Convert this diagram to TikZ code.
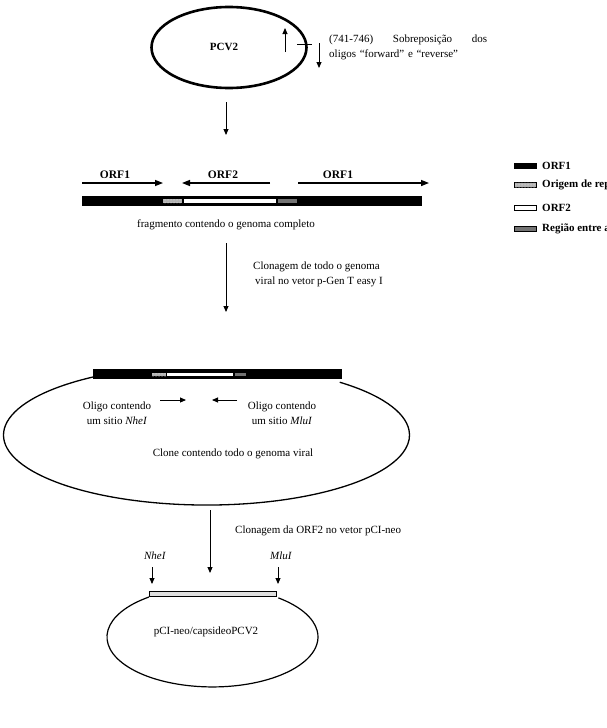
\documentclass[tikz,border=0pt]{standalone}
\usepackage{fontspec}
\setmainfont{Liberation Serif}
\usepackage{tikz}
\usetikzlibrary{arrows.meta,positioning,shapes.geometric,patterns}

\begin{document}
\begin{tikzpicture}[
  x=1pt, y=1pt,
  txt/.style={font=\fontsize{11}{15}\selectfont, inner sep=0pt},
  lab/.style={font=\fontsize{11.5}{14}\selectfont\bfseries, inner sep=0pt},
  fl/.style={-{Triangle[length=6pt,width=5pt]}, line width=0.9pt},
  orfa/.style={-{Triangle[length=8pt,width=6pt]}, line width=1.4pt},
  genome/.style={fill=black},
  ori/.style={fill=black!30, postaction={pattern=dots, pattern color=white}},
  orftwo/.style={fill=white},
  ig/.style={fill=black!55},
  plasmid/.style={line width=1.3pt},
]
\useasboundingbox (0,0) rectangle (606,-728);

% ---------- PCV2 ----------
\node[draw, ellipse, line width=2.6pt, minimum width=155pt, minimum height=81pt,
      inner sep=0pt] (pcv) at (229,-47.5) {};
\node[lab, font=\fontsize{11}{13}\selectfont\bfseries] (pcvlbl) at (224,-47) {PCV2};
\coordinate (fwS) at (285,-52);  \coordinate (fwE) at (285,-28);
\coordinate (tkA) at (297,-44);  \coordinate (tkB) at (312,-44);
\coordinate (rvS) at (319,-43);  \coordinate (rvE) at (319,-68);
\draw[fl] (fwS) -- (fwE);
\draw[line width=0.9pt] (tkA) -- (tkB);
\draw[fl] (rvS) -- (rvE);
\node[txt, anchor=west, text width=158pt, align=left] (overlap) at (329,-47)
  {(741-746)\hfill Sobreposição\hfill dos\\oligos “forward” e “reverse”};

\coordinate (d1s) at (226,-102); \coordinate (d1e) at (226,-135);
\draw[fl] (d1s) -- (d1e);

% ---------- linear fragment ----------
\node[lab] (orf1a) at (115,-175) {ORF1};
\node[lab] (orf2a) at (223,-175) {ORF2};
\node[lab] (orf1b) at (338,-175) {ORF1};
\coordinate (o1s) at (82,-183);  \coordinate (o1e) at (163,-183);
\coordinate (o2s) at (270,-183); \coordinate (o2e) at (182,-183);
\coordinate (o3s) at (298,-183); \coordinate (o3e) at (429,-183);
\draw[orfa] (o1s) -- (o1e);
\draw[orfa] (o2s) -- (o2e);
\draw[orfa] (o3s) -- (o3e);

\fill[genome] (82,-196) rectangle (422,-206);
\fill[ori] (163,-199) rectangle (182,-203);
\fill[orftwo] (184,-199) rectangle (276,-203);
\fill[ig] (278,-199) rectangle (297,-203);
\node[txt] (frag) at (226,-225) {fragmento contendo o genoma completo};

% ---------- legend (cut by the page edge) ----------
\begin{scope}
  \clip (0,0) rectangle (606,-728);
  \foreach \y/\st/\txt in {166/genome/ORF1, 185/ori/Origem de replicação,
                           208/orftwo/ORF2, 229/ig/Região entre as ORFs} {
    \filldraw[\st, draw=black, line width=0.5pt] (514,-\y+2.5) rectangle (536,-\y-2.5);
    \node[lab, font=\fontsize{11}{13}\selectfont\bfseries, anchor=west] at (542,-\y) {\txt};
  }
\end{scope}

\coordinate (d2s) at (226,-243); \coordinate (d2e) at (226,-312);
\draw[fl] (d2s) -- (d2e);
\node[txt, anchor=west, align=left] (clon1) at (253,-274.5)
  {Clonagem de todo o genoma\\\hspace{2pt}viral no vetor p-Gen T easy I};

% ---------- clone with the whole genome ----------
\coordinate (clc) at (208,-435);
\draw[plasmid] (93,-377) arc[start angle=124, end angle=409, x radius=203, y radius=70];
\fill[genome] (93,-369) rectangle (342,-379);
\fill[ori] (152,-373) rectangle (166,-376);
\fill[orftwo] (167,-373) rectangle (233,-376);
\fill[ig] (235,-373) rectangle (246,-376);

\node[txt, align=center] (nhe) at (117,-413) {Oligo contendo\\um sitio \textit{NheI}};
\node[txt, align=center] (mlu) at (282,-413) {Oligo contendo\\um sitio \textit{MluI}};
\coordinate (p1s) at (160,-400); \coordinate (p1e) at (186,-400);
\coordinate (p2s) at (237,-400); \coordinate (p2e) at (212,-400);
\draw[fl] (p1s) -- (p1e);
\draw[fl] (p2s) -- (p2e);
\node[txt] (clone) at (233,-454) {Clone contendo todo o genoma viral};

\coordinate (d3s) at (210,-510); \coordinate (d3e) at (210,-573);
\draw[fl] (d3s) -- (d3e);
\node[txt, anchor=west] (clon2) at (235,-531) {Clonagem da ORF2 no vetor pCI-neo};

% ---------- pCI-neo construct ----------
\node[txt] (nhesite) at (155,-556) {\textit{NheI}};
\node[txt] (mlusite) at (281,-556) {\textit{MluI}};
\coordinate (n1s) at (152,-567); \coordinate (n1e) at (152,-584);
\coordinate (m1s) at (278,-567); \coordinate (m1e) at (278,-584);
\draw[fl] (n1s) -- (n1e);
\draw[fl] (m1s) -- (m1e);

\draw[plasmid, line width=1.2pt] (149,-597) arc[start angle=127, end angle=411.4,
  x radius=105.5, y radius=50];
\filldraw[fill=black!12, draw=black, line width=1pt] (149,-591) rectangle (276,-596);
\node[txt] (pci) at (206,-632) {pCI-neo/capsideoPCV2};
\end{tikzpicture}
\end{document}
